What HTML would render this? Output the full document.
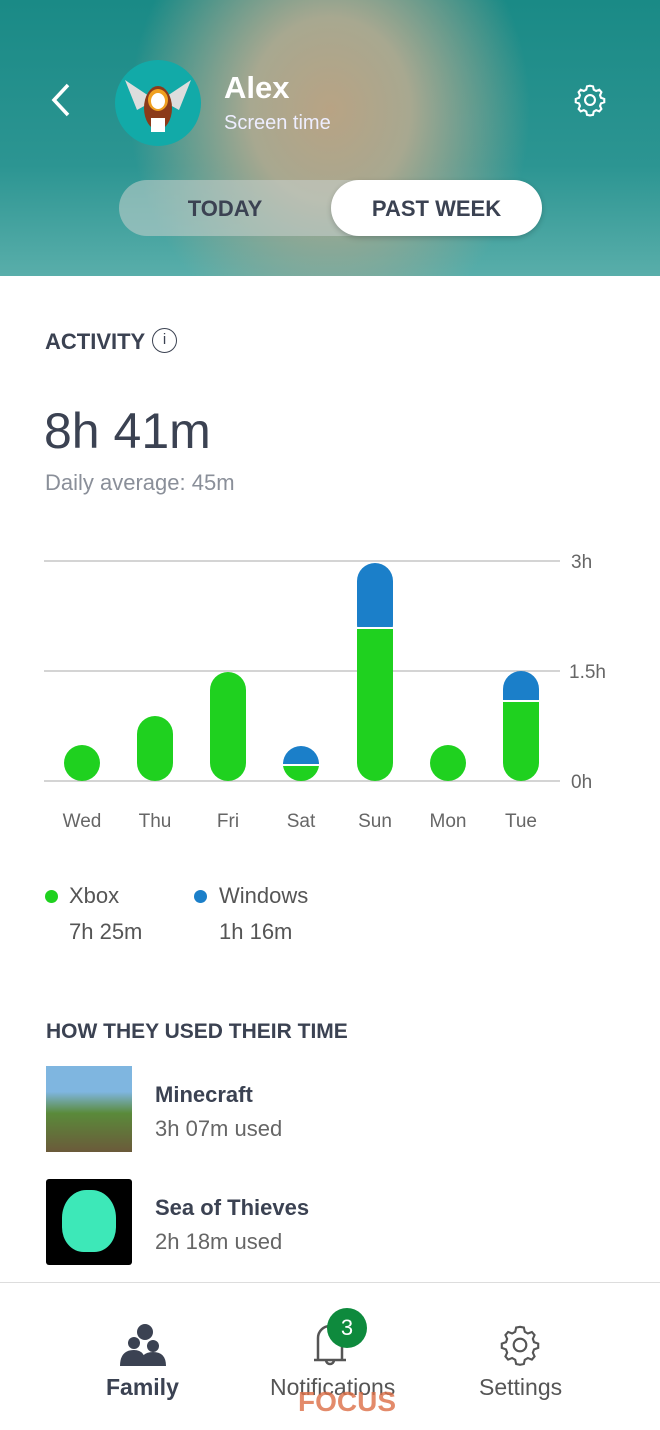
<!DOCTYPE html>
<html><head><meta charset="utf-8"><style>
body{margin:0;width:660px;height:1429px;position:relative;overflow:hidden;background:#fff;font-family:"Liberation Sans",sans-serif;color:#3b4252}
.hdr{position:absolute;left:0;top:0;width:660px;height:276px;background:radial-gradient(ellipse 200px 230px at 330px 110px,#b8a384 0%,#a8a890 40%,rgba(0,0,0,0) 100%),linear-gradient(180deg,#1a8a86,#2c9592 60%,#59aeaa);}
.a{position:absolute;white-space:nowrap}
</style></head><body>
<div class="hdr"></div>
<svg class="a" style="left:48px;top:82px" width="26" height="36"><path d="M20 3 L6 18 L20 33" stroke="#fff" stroke-width="3.5" fill="none"/></svg>
<div class="a" style="left:115px;top:60px;width:86px;height:86px;border-radius:50%;background:#12aaa8"></div>
<svg class="a" style="left:115px;top:60px" width="86" height="86"><path d="M10 20 L40 40 L22 50Z M76 20 L46 40 L64 50Z" fill="#ddd"/><ellipse cx="43" cy="48" rx="14" ry="22" fill="#8b3a1a"/><ellipse cx="43" cy="40" rx="10" ry="11" fill="#f0a020"/><ellipse cx="43" cy="41" rx="7" ry="8" fill="#fff"/><rect x="36" y="58" width="14" height="14" fill="#fff"/></svg>
<div class="a" style="left:224px;top:70px;font-size:31px;color:#fff;font-weight:bold">Alex</div>
<div class="a" style="left:224px;top:112px;font-size:20px;color:#eef">Screen time</div>
<svg class="a" style="left:572px;top:82px" width="36" height="36" viewBox="0 0 24 24"><path d="M12 2.5l2 .4.5 2.2 1.6.9 2.1-.8 1.4 1.6-.9 2 .6 1.7 2.2.8v2.2l-2.2.8-.6 1.7.9 2-1.4 1.6-2.1-.8-1.6.9-.5 2.2-2 .4-2-.4-.5-2.2-1.6-.9-2.1.8-1.4-1.6.9-2-.6-1.7-2.2-.8v-2.2l2.2-.8.6-1.7-.9-2 1.4-1.6 2.1.8 1.6-.9.5-2.2z" fill="none" stroke="#fff" stroke-width="1.4"/><circle cx="12" cy="12" r="3.3" fill="none" stroke="#fff" stroke-width="1.4"/></svg>
<div class="a" style="left:119px;top:180px;width:420px;height:56px;border-radius:28px;background:rgba(200,210,205,.55)"></div>
<div class="a" style="left:119px;top:196px;width:212px;text-align:center;font-size:22px;font-weight:bold;color:#3b4252">TODAY</div>
<div class="a" style="left:331px;top:180px;width:211px;height:56px;border-radius:28px;background:#fff;box-shadow:0 2px 6px rgba(0,0,0,.2)"></div>
<div class="a" style="left:331px;top:196px;width:211px;text-align:center;font-size:22px;font-weight:bold;color:#3b4252">PAST WEEK</div>

<div class="a" style="left:45px;top:329px;font-size:22px;font-weight:bold">ACTIVITY</div>
<div class="a" style="left:152px;top:328px;width:25px;height:25px;border:1.8px solid #3b4252;border-radius:50%;box-sizing:border-box;text-align:center;font-size:15px;line-height:22px">i</div>
<div class="a" style="left:44px;top:402px;font-size:50px;color:#3b4252">8h 41m</div>
<div class="a" style="left:45px;top:470px;font-size:22px;color:#8a8f99">Daily average: 45m</div>

<svg class="a" style="left:0;top:540px" width="660" height="300">
<g stroke="#bbb" stroke-width="1.3"><line x1="44" x2="560" y1="21" y2="21"/><line x1="44" x2="560" y1="131" y2="131"/><line x1="44" x2="560" y1="241" y2="241"/></g>
<g font-size="19" fill="#666" font-family="Liberation Sans,sans-serif"><text x="571" y="28">3h</text><text x="569" y="138">1.5h</text><text x="571" y="248">0h</text></g>
<g fill="#1b7fc9">
<path d="M283 224 a18 18 0 0 1 36 0z"/>
<rect x="357" y="23" width="36" height="80" rx="18"/>
<rect x="503" y="131" width="36" height="50" rx="18"/>
</g>
<g fill="#1fd11f">
<rect x="64" y="205" width="36" height="36" rx="18"/>
<rect x="137" y="176" width="36" height="65" rx="18"/>
<rect x="210" y="132" width="36" height="109" rx="18"/>
<path d="M283 226 h36 a18 18 0 0 1 -18 15 a18 18 0 0 1 -18 -15z"/>
<path d="M357 89 h36 v134 a18 18 0 0 1 -36 0z"/>
<rect x="430" y="205" width="36" height="36" rx="18"/>
<path d="M503 162 h36 v61 a18 18 0 0 1 -36 0z"/>
</g>
<g fill="#fff"><rect x="283" y="224" width="36" height="2"/><rect x="357" y="87" width="36" height="2"/><rect x="503" y="160" width="36" height="2"/></g>
<g font-size="19" fill="#666" text-anchor="middle" font-family="Liberation Sans,sans-serif"><text x="82" y="287">Wed</text><text x="155" y="287">Thu</text><text x="228" y="287">Fri</text><text x="301" y="287">Sat</text><text x="375" y="287">Sun</text><text x="448" y="287">Mon</text><text x="521" y="287">Tue</text></g>
</svg>

<div class="a" style="left:45px;top:890px;width:13px;height:13px;border-radius:50%;background:#1fd11f"></div>
<div class="a" style="left:69px;top:883px;font-size:22px;color:#555">Xbox</div>
<div class="a" style="left:69px;top:919px;font-size:22px;color:#555">7h 25m</div>
<div class="a" style="left:194px;top:890px;width:13px;height:13px;border-radius:50%;background:#1b7fc9"></div>
<div class="a" style="left:219px;top:883px;font-size:22px;color:#555">Windows</div>
<div class="a" style="left:219px;top:919px;font-size:22px;color:#555">1h 16m</div>

<div class="a" style="left:46px;top:1020px;font-size:21px;font-weight:bold">HOW THEY USED THEIR TIME</div>
<div class="a" style="left:46px;top:1066px;width:86px;height:86px;background:linear-gradient(180deg,#7fb6e0 0%,#7fb6e0 30%,#5a8a3a 55%,#6b5a3a 100%)"></div>
<div class="a" style="left:155px;top:1082px;font-size:22px;font-weight:bold">Minecraft</div>
<div class="a" style="left:155px;top:1116px;font-size:22px;color:#666">3h 07m used</div>
<div class="a" style="left:46px;top:1179px;width:86px;height:86px;background:#000;border-radius:3px"></div>
<div class="a" style="left:62px;top:1190px;width:54px;height:62px;border-radius:45% 45% 40% 40%;background:#3de8b8"></div>
<div class="a" style="left:155px;top:1195px;font-size:22px;font-weight:bold">Sea of Thieves</div>
<div class="a" style="left:155px;top:1229px;font-size:22px;color:#666">2h 18m used</div>

<div class="a" style="left:0;top:1282px;width:660px;height:147px;background:#fff;border-top:1.5px solid #ddd"></div>
<svg class="a" style="left:118px;top:1322px" width="48" height="44"><circle cx="27" cy="10" r="8" fill="#3b4252"/><circle cx="16" cy="21" r="6" fill="#3b4252"/><circle cx="35" cy="24" r="6" fill="#3b4252"/><path d="M2 44 q0-16 14-16 q12 0 12 16z M22 44 q0-14 13-14 q13 0 13 14z" fill="#3b4252"/></svg>
<div class="a" style="left:106px;top:1374px;font-size:23px;font-weight:bold">Family</div>
<svg class="a" style="left:310px;top:1320px" width="40" height="48"><path d="M8 40 V18 a12 12 0 0 1 24 0 V40 M4 40 H36 M16 40 a4 4 0 0 0 8 0" stroke="#555" stroke-width="2.5" fill="none"/></svg>
<div class="a" style="left:327px;top:1308px;width:40px;height:40px;border-radius:50%;background:#0e8a3d;color:#fff;font-size:22px;text-align:center;line-height:40px">3</div>
<div class="a" style="left:270px;top:1374px;font-size:23px;color:#555">Notifications</div>
<div class="a" style="left:298px;top:1386px;font-size:28px;font-weight:bold;color:rgba(220,110,70,.8)">FOCUS</div>
<svg class="a" style="left:497px;top:1322px" width="46" height="46" viewBox="0 0 24 24"><path d="M12 2.5l2 .4.5 2.2 1.6.9 2.1-.8 1.4 1.6-.9 2 .6 1.7 2.2.8v2.2l-2.2.8-.6 1.7.9 2-1.4 1.6-2.1-.8-1.6.9-.5 2.2-2 .4-2-.4-.5-2.2-1.6-.9-2.1.8-1.4-1.6.9-2-.6-1.7-2.2-.8v-2.2l2.2-.8.6-1.7-.9-2 1.4-1.6 2.1.8 1.6-.9.5-2.2z" fill="none" stroke="#555" stroke-width="1.1"/><circle cx="12" cy="12" r="3.3" fill="none" stroke="#555" stroke-width="1.1"/></svg>
<div class="a" style="left:479px;top:1374px;font-size:23px;color:#555">Settings</div>
</body></html>
